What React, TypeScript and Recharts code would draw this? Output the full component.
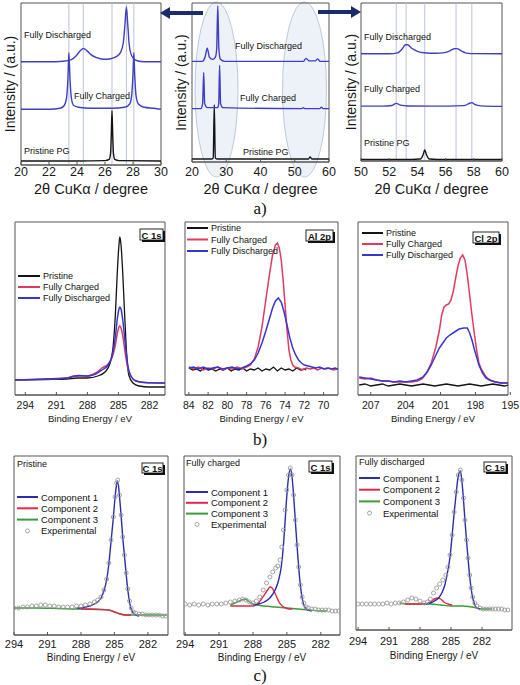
import React from 'react';
import { LineChart, Line, XAxis, YAxis, ReferenceLine, ReferenceArea, Label } from 'recharts';

type Pt = [number, number];

const FONT = '"Liberation Sans", Arial, sans-serif';
const SERIF = '"Liberation Serif", "Times New Roman", serif';

// ---------------- (a) XRD ----------------
const a1XTicks = [20, 22, 24, 26, 28, 30];
const a2XTicks = [20, 30, 40, 50, 60];
const a3XTicks = [50, 52, 54, 56, 58, 60];
const a1Guides = [23.42, 24.45, 26.5, 27.53, 28.06];
const a3Guides = [52.5, 53.2, 54.52, 56.74, 57.86];

const a1Pristine: Pt[] = [[20, 4], [24, 4], [26.0, 4.3], [26.3, 5.5], [26.4, 12], [26.45, 30], [26.5, 54], [26.55, 30], [26.6, 12], [26.7, 5.5], [27, 4.3], [30, 4]];
const a1Charged: Pt[] = [[20, 55], [22, 55], [22.8, 56], [23.1, 59], [23.25, 66], [23.35, 85], [23.42, 111], [23.5, 85], [23.6, 66], [23.75, 59], [24.1, 57], [25, 56], [26.5, 56], [27.4, 57], [27.75, 60], [27.9, 68], [28.0, 90], [28.06, 111], [28.12, 90], [28.22, 68], [28.4, 60], [28.8, 57], [29.5, 56], [30, 55]];
const a1Discharged: Pt[] = [[20, 102], [22, 102], [23, 102.5], [23.6, 104], [23.95, 108], [24.25, 113], [24.45, 115], [24.7, 113], [25.0, 109], [25.4, 106], [25.9, 104.5], [26.4, 105], [26.8, 107], [27.1, 111], [27.3, 120], [27.42, 138], [27.53, 156], [27.62, 140], [27.72, 120], [27.85, 110], [28.05, 105], [28.3, 103], [28.8, 102], [30, 102]];

const a2Pristine: Pt[] = [[20, 3], [25.8, 3], [26.2, 4], [26.5, 57], [26.8, 4], [27.5, 3], [54, 3], [54.5, 5], [55, 3], [60, 3]];
const a2Charged: Pt[] = [[20, 53], [22.6, 53], [23.1, 58], [23.42, 89], [23.7, 58], [24.5, 54], [27.5, 54], [27.8, 58], [28.06, 96], [28.35, 58], [29, 54], [52, 53], [52.5, 54], [53, 53], [57.3, 53], [57.8, 54.5], [58.3, 53], [60, 53]];
const a2Discharged: Pt[] = [[20, 100], [23, 100], [23.8, 104], [24.45, 113], [25.1, 104], [26, 102], [26.8, 104], [27.2, 112], [27.53, 155], [27.85, 112], [28.3, 102], [29.5, 100], [52.5, 100], [53.3, 103], [54.2, 100.5], [56, 100.5], [56.7, 102.5], [57.4, 100], [60, 100]];

const a3Pristine: Pt[] = [[50, 1.5], [53, 1.5], [54.2, 2], [54.4, 6], [54.52, 11], [54.65, 6], [54.85, 2], [56, 1.5], [60, 1.5]];
const a3Charged: Pt[] = [[50, 54.5], [51.5, 54.5], [52.2, 55.2], [52.5, 57.3], [52.8, 55.5], [53.3, 54.7], [55, 54.5], [57.3, 55], [57.65, 57], [57.86, 58], [58.1, 56], [58.5, 54.8], [60, 54.3]];
const a3Discharged: Pt[] = [[50, 106.5], [52, 106.5], [52.6, 107.5], [52.9, 111], [53.15, 115.5], [53.3, 115.5], [53.6, 112], [54, 109], [54.5, 107.5], [55.3, 107], [55.9, 107.7], [56.3, 109.5], [56.6, 111.5], [56.8, 111.7], [57.1, 109.5], [57.4, 107.5], [57.8, 106.7], [60, 106.5]];

// ---------------- (b) XPS ----------------
const bC1sTicks = [294, 291, 288, 285, 282];
const bAlTicks = [84, 82, 80, 78, 76, 74, 72, 70];
const bClTicks = [207, 204, 201, 198, 195];

const b1Pristine: Pt[] = [[295, 15], [292, 15.5], [290, 16], [289, 17], [288, 17], [287, 19], [286.3, 23], [285.8, 32], [285.5, 50], [285.3, 80], [285.1, 125], [284.95, 150], [284.87, 158], [284.75, 150], [284.6, 125], [284.4, 80], [284.2, 40], [284, 20], [283.6, 12], [283, 9], [282, 8], [280.5, 8]];
const b1Charged: Pt[] = [[295, 15], [292, 16], [290, 17], [289.3, 18.5], [288.8, 19], [288, 19], [287.2, 22], [286.6, 27], [286, 31], [285.6, 38], [285.3, 50], [285.1, 62], [284.95, 68], [284.87, 69], [284.75, 67], [284.55, 57], [284.35, 42], [284.1, 27], [283.8, 19], [283.3, 14], [282.5, 12.5], [280.5, 12]];
const b1Discharged: Pt[] = [[295, 15], [292, 16], [290, 17], [289.3, 19], [288.8, 19.5], [288, 19], [287.2, 21], [286.6, 25], [286, 30], [285.6, 40], [285.3, 58], [285.1, 77], [284.95, 86], [284.87, 88], [284.75, 86], [284.55, 72], [284.35, 52], [284.1, 30], [283.8, 19], [283.3, 14], [282.5, 12.5], [280.5, 12]];

const b2Pristine: Pt[] = [[84, 27], [83.6, 25], [83.2, 26], [82.8, 24], [82.4, 27], [82, 25], [81.6, 26], [81.2, 24], [80.8, 26], [80.4, 25], [80, 27], [79.6, 24], [79.2, 26], [78.8, 25], [78.4, 27], [78, 24], [77.6, 26], [77.2, 25], [76.8, 27], [76.4, 24], [76, 26], [75.6, 25], [75.2, 28], [74.8, 24], [74.4, 27], [74, 25], [73.6, 26], [73.2, 24], [72.8, 27], [72.4, 25], [72, 26], [71.8, 25]];
const b2Charged: Pt[] = [[84, 28], [83.5, 26], [83, 28], [82.5, 25], [82, 27], [81.5, 26], [81, 28], [80.5, 25], [80, 27], [79.5, 26], [79, 28], [78.5, 26], [78, 28], [77.6, 30], [77.2, 36], [76.8, 48], [76.4, 68], [76, 95], [75.6, 122], [75.3, 140], [75.0, 150], [74.8, 152], [74.6, 147], [74.4, 135], [74.2, 115], [74.0, 90], [73.8, 65], [73.6, 45], [73.4, 35], [73.2, 30], [73, 28], [72.6, 27], [72.2, 25], [71.8, 27], [71.4, 26], [71, 27], [70.6, 25], [70.2, 27], [69.8, 26], [69.4, 27], [69, 25], [68.5, 26]];
const b2Discharged: Pt[] = [[84, 27], [83.5, 28], [83, 26], [82.5, 28], [82, 26], [81.5, 27], [81, 28], [80.5, 26], [80, 27], [79.5, 28], [79, 26], [78.5, 27], [78, 29], [77.6, 31], [77.2, 35], [76.8, 42], [76.4, 52], [76, 64], [75.6, 77], [75.3, 87], [75.0, 94], [74.7, 97], [74.4, 93], [74.1, 83], [73.8, 70], [73.5, 57], [73.2, 47], [72.9, 40], [72.6, 35], [72.3, 32], [72, 30], [71.6, 29], [71.2, 28], [70.8, 27], [70.4, 28], [70, 26], [69.6, 27], [69.2, 26], [68.8, 27], [68.5, 26]];

const b3Pristine: Pt[] = [[208, 10], [207.5, 11], [207, 9], [206.5, 10], [206, 11], [205.5, 9], [205, 10], [204.5, 11], [204, 10], [203.5, 9], [203, 10], [202.5, 11], [202, 10], [201.5, 9], [201, 10], [200.5, 11], [200, 10], [199.5, 9], [199, 10], [198.5, 11], [198, 10], [197.5, 9], [197, 10], [196.5, 11], [196, 10], [195.5, 9], [195.2, 10]];
const b3Charged: Pt[] = [[208, 17], [207.5, 16], [207, 17], [206.5, 15], [206, 14], [205.5, 14], [205, 13], [204.5, 13], [204, 13], [203.5, 13], [203, 14], [202.6, 16], [202.2, 22], [201.8, 32], [201.4, 48], [201.1, 65], [200.9, 80], [200.7, 88], [200.5, 90], [200.3, 91], [200.1, 95], [199.9, 104], [199.7, 117], [199.5, 129], [199.3, 137], [199.1, 140], [198.9, 135], [198.7, 120], [198.5, 100], [198.3, 80], [198.1, 62], [197.9, 45], [197.7, 32], [197.5, 26], [197.2, 20], [197, 17], [196.6, 14], [196.2, 13], [195.8, 12], [195.2, 12]];
const b3Discharged: Pt[] = [[208, 18], [207.5, 17], [207, 16], [206.5, 15], [206, 14], [205.5, 14], [205, 13], [204.5, 14], [204, 13], [203.5, 14], [203, 15], [202.5, 18], [202.1, 24], [201.8, 30], [201.4, 40], [201.1, 47], [200.8, 52], [200.5, 57], [200.2, 60], [199.8, 63], [199.4, 66], [199.0, 67], [198.7, 67], [198.5, 62], [198.3, 55], [198.1, 46], [197.9, 38], [197.7, 30], [197.4, 22], [197.1, 17], [196.8, 15], [196.3, 13], [195.8, 12], [195.2, 12]];

// ---------------- (c) C 1s fits ----------------
const cTicks = [294, 291, 288, 285, 282];

const c1Exp: Pt[] = [[294, 27], [293.6, 27], [293.2, 28], [292.8, 28], [292.4, 29], [292, 29], [291.6, 30], [291.2, 30], [290.8, 29], [290.4, 29], [290, 28], [289.6, 28], [289.2, 28], [288.8, 28], [288.4, 29], [288, 29], [287.6, 30], [287.2, 31], [286.8, 33], [286.5, 35], [286.2, 38], [285.95, 45], [285.7, 56], [285.5, 72], [285.3, 95], [285.1, 118], [284.95, 138], [284.8, 152], [284.7, 155], [284.55, 140], [284.4, 120], [284.25, 98], [284.1, 80], [283.95, 62], [283.8, 46], [283.65, 34], [283.5, 27], [283.3, 23], [283.1, 22], [282.8, 21], [282.5, 21], [282.2, 20], [281.9, 20], [281.6, 20], [281.3, 20], [281, 20], [280.7, 19], [280.4, 19]];
const c1Comp1: Pt[] = [[288.4, 27], [288, 27], [287.6, 28], [287.2, 29], [286.8, 31], [286.5, 33], [286.2, 37], [285.95, 44], [285.7, 55], [285.5, 71], [285.3, 94], [285.1, 117], [284.95, 137], [284.8, 151], [284.7, 154], [284.55, 139], [284.4, 119], [284.25, 97], [284.1, 79], [283.95, 61], [283.8, 45], [283.65, 33], [283.5, 26], [283.3, 22], [283.1, 20], [282.8, 19]];
const c1Comp2: Pt[] = [[288, 26], [286.5, 25.5], [285.5, 25], [285, 23], [284.5, 21], [284, 20], [283.5, 20]];
const c1Comp3: Pt[] = [[294, 27], [292, 27], [290, 26.5], [288, 26], [287, 26], [286, 25.5], [285.5, 25], [285, 23], [284.5, 21], [284, 20], [283.5, 20], [282, 20], [281, 20], [280.3, 20]];

const c2Exp: Pt[] = [[294, 31], [293.6, 30], [293.2, 31], [292.8, 30], [292.4, 31], [292, 30], [291.6, 31], [291.2, 31], [290.8, 31], [290.4, 32], [290, 33], [289.6, 34], [289.2, 35], [288.9, 36], [288.6, 35], [288.3, 33], [288, 32], [287.7, 34], [287.4, 38], [287.1, 45], [286.8, 52], [286.5, 58], [286.25, 63], [286, 67], [285.8, 69], [285.6, 75], [285.45, 88], [285.3, 105], [285.15, 125], [285.0, 145], [284.85, 160], [284.7, 167], [284.55, 160], [284.4, 140], [284.25, 115], [284.1, 90], [283.95, 68], [283.8, 50], [283.65, 38], [283.5, 32], [283.3, 28], [283.1, 27], [282.8, 26], [282.5, 26], [282.2, 25], [281.9, 25], [281.6, 25], [281.3, 25], [281, 24], [280.7, 24], [280.4, 24]];
const c2Comp1: Pt[] = [[288, 30], [287.5, 31], [287, 33], [286.6, 36], [286.3, 40], [286, 46], [285.75, 54], [285.5, 68], [285.3, 90], [285.15, 115], [285.0, 140], [284.85, 158], [284.7, 166], [284.55, 159], [284.4, 139], [284.25, 114], [284.1, 89], [283.95, 67], [283.8, 49], [283.65, 37], [283.5, 30], [283.3, 26], [283.1, 25], [282.8, 24]];
const c2Comp2: Pt[] = [[290, 29], [289, 29], [288, 29], [287.6, 31], [287.3, 35], [287, 40], [286.7, 45], [286.5, 48], [286.3, 47], [286.1, 43], [285.9, 38], [285.7, 33], [285.4, 29], [285.1, 27], [284.8, 26], [284.5, 26]];
const c2Comp3: Pt[] = [[290, 30], [289.4, 33], [289, 35], [288.7, 36], [288.3, 33], [288, 31], [287, 29], [286, 28], [285, 27], [284, 26], [283, 25], [282, 24], [281.5, 24]];

const c3Exp: Pt[] = [[294, 26], [293.6, 26], [293.2, 26], [292.8, 26], [292.4, 26], [292, 26], [291.6, 26], [291.2, 27], [290.8, 26], [290.4, 27], [290, 27], [289.6, 28], [289.2, 30], [288.8, 32], [288.4, 31], [288, 29], [287.6, 27], [287.3, 28], [287, 31], [286.7, 37], [286.4, 42], [286.1, 46], [285.8, 50], [285.5, 55], [285.3, 63], [285.1, 75], [284.9, 95], [284.7, 118], [284.5, 138], [284.3, 155], [284.1, 160], [283.95, 150], [283.8, 132], [283.65, 110], [283.5, 90], [283.35, 72], [283.2, 55], [283.05, 42], [282.9, 33], [282.7, 27], [282.5, 24], [282.2, 22], [281.9, 21], [281.6, 21], [281.3, 21], [281, 21], [280.7, 21], [280.4, 21], [280.1, 21], [279.8, 20], [279.5, 20]];
const c3Comp1: Pt[] = [[287.5, 26], [287, 27], [286.6, 29], [286.2, 32], [285.9, 37], [285.6, 45], [285.3, 60], [285.1, 73], [284.9, 94], [284.7, 117], [284.5, 137], [284.3, 154], [284.1, 159], [283.95, 149], [283.8, 131], [283.65, 109], [283.5, 89], [283.35, 71], [283.2, 54], [283.05, 41], [282.9, 32], [282.7, 25], [282.5, 22], [282.2, 21]];
const c3Comp2: Pt[] = [[289.5, 26], [288.5, 26], [287.5, 26], [287, 28], [286.6, 31], [286.3, 32], [286, 31], [285.7, 28], [285.3, 26], [284.9, 25]];
const c3Comp3: Pt[] = [[290, 27], [289, 26], [288, 26], [287, 26], [286, 25], [285, 24], [284, 24], [283, 23], [282, 21], [281, 21]];

// ---------------- styles ----------------
const BLUE_A = '#3f3fc6';
const BLACK = '#141414';
const RED_B = '#e03a62';
const BLUE_B = '#3636d4';
const BLUE_C = '#2c2cb0';
const RED_C = '#e0284c';
const GREEN_C = '#3b9b3b';
const GRAY_C = '#9a9a9a';
const FRAME = '#555';

interface Series { name: string; data: Pt[]; color: string; width?: number; marker?: boolean; curve?: 'linear' | 'monotone' }
interface Box { l: number; t: number; r: number; b: number }
interface PanelProps {
  box: Box;
  xDomain: [number, number];
  reversed?: boolean;
  ticks: number[];
  yMax: number;
  series: Series[];
  guides?: number[];
  tickFont: number;
  labelTop: number;
  xTitle: string;
  titleFont: number;
  titleBaseline: number;
  yTitle?: string;
  yTitleCenter?: number;
  yTitleFont?: number;
}

function Panel(p: PanelProps) {
  const plotW = p.box.r - p.box.l;
  const plotH = p.box.b - p.box.t;
  const padT = 4, padR = 16, padB = 6;
  const yw = p.yTitle ? 2 * (p.box.l - (p.yTitleCenter ?? 0)) : 0;
  const padL = Math.max(16, yw + 2);
  const xh = p.titleBaseline - p.box.b;
  const W = padL + plotW + padR;
  const H = padT + plotH + xh + padB;
  const tickSize = -3;
  const tickMargin = p.labelTop - p.box.b - tickSize;
  return (
    <div style={{ position: 'absolute', left: p.box.l - padL, top: p.box.t - padT }}>
      <LineChart width={W} height={H} margin={{ top: padT, right: padR, bottom: padB, left: padL - yw }}>
        <XAxis
          type="number"
          dataKey="x"
          domain={p.xDomain}
          reversed={p.reversed}
          ticks={p.ticks}
          interval={0}
          allowDataOverflow
          height={xh}
          tickSize={tickSize}
          tickMargin={tickMargin}
          tick={{ fontSize: p.tickFont, fill: '#1a1a1a', fontFamily: FONT }}
          axisLine={{ stroke: FRAME }}
          tickLine={{ stroke: FRAME }}
        >
          <Label value={p.xTitle} position="insideBottom" offset={0} style={{ fontSize: p.titleFont, fill: '#1a1a1a', fontFamily: FONT }} />
        </XAxis>
        {p.yTitle ? (
          <YAxis type="number" domain={[0, p.yMax]} allowDataOverflow width={yw} tick={false} axisLine={false} tickLine={false}>
            <Label value={p.yTitle} position="center" angle={-90} style={{ fontSize: p.yTitleFont ?? 14, fill: '#1a1a1a', fontFamily: FONT }} />
          </YAxis>
        ) : (
          <YAxis type="number" domain={[0, p.yMax]} allowDataOverflow hide />
        )}
        <ReferenceArea x1={p.xDomain[0]} x2={p.xDomain[1]} y1={0} y2={p.yMax} fill="none" stroke={FRAME} strokeWidth={1} />
        {(p.guides ?? []).map((g) => (
          <ReferenceLine key={g} x={g} stroke="#b9c3da" strokeWidth={1} />
        ))}
        {p.series.map((s) => (
          <Line
            key={s.name}
            name={s.name}
            data={s.data.map(([x, y]) => ({ x, y }))}
            dataKey="y"
            type={s.curve ?? 'monotone'}
            stroke={s.marker ? 'none' : s.color}
            strokeWidth={s.width ?? 1.4}
            dot={s.marker ? { r: 2, stroke: s.color, strokeWidth: 0.9, fill: 'none' } : false}
            activeDot={false}
            isAnimationActive={false}
          />
        ))}
      </LineChart>
    </div>
  );
}

// ---------------- panel configs ----------------
const XRD_TITLE = '2\u03b8 CuK\u03b1 / degree';
const INT_TITLE = 'Intensity / (a.u.)';
const BE_TITLE = 'Binding Energy / eV';

const aSeries = (pr: Pt[], ch: Pt[], di: Pt[]): Series[] => [
  { name: 'Pristine PG', data: pr, color: BLACK, width: 1.4 },
  { name: 'Fully Charged', data: ch, color: BLUE_A, width: 1.4 },
  { name: 'Fully Discharged', data: di, color: BLUE_A, width: 1.4 },
];
const bSeries = (pr: Pt[], ch: Pt[], di: Pt[], curve: 'linear' | 'monotone'): Series[] => [
  { name: 'Pristine', data: pr, color: BLACK, width: 1.3, curve },
  { name: 'Fully Charged', data: ch, color: RED_B, width: 1.5, curve },
  { name: 'Fully Discharged', data: di, color: BLUE_B, width: 1.5, curve },
];
const cSeries = (c1: Pt[], c2: Pt[], c3: Pt[], ex: Pt[]): Series[] => [
  { name: 'Component 3', data: c3, color: GREEN_C, width: 1.4 },
  { name: 'Component 2', data: c2, color: RED_C, width: 1.4 },
  { name: 'Component 1', data: c1, color: BLUE_C, width: 1.4 },
  { name: 'Experimental', data: ex, color: GRAY_C, marker: true },
];

const bLegend = [
  { name: 'Pristine', color: BLACK },
  { name: 'Fully Charged', color: RED_B },
  { name: 'Fully Discharged', color: BLUE_B },
];
const cLegend = [
  { name: 'Component 1', color: BLUE_C },
  { name: 'Component 2', color: RED_C },
  { name: 'Component 3', color: GREEN_C },
  { name: 'Experimental', color: GRAY_C, marker: true },
];

function Overlay() {
  const T = (x: number, y: number, s: number, txt: string, opts: { anchor?: string; weight?: string; fam?: string } = {}) => (
    <text key={`${txt}-${x}-${y}`} x={x} y={y} fontSize={s} fontFamily={opts.fam ?? FONT} fontWeight={opts.weight ?? 'normal'}
      textAnchor={opts.anchor ?? 'start'} dominantBaseline="central" fill="#111">{txt}</text>
  );
  const legend = (x1: number, y0: number, dy: number, len: number, size: number, items: { name: string; color: string; marker?: boolean }[]) =>
    items.map((it, i) => {
      const y = y0 + i * dy;
      return (
        <g key={`${it.name}-${x1}`}>
          {it.marker ? (
            <circle cx={x1 + len / 2} cy={y} r={2} fill="none" stroke={it.color} strokeWidth={0.9} />
          ) : (
            <line x1={x1} x2={x1 + len} y1={y} y2={y} stroke={it.color} strokeWidth={2} />
          )}
          {T(x1 + len + 3, y, size, it.name)}
        </g>
      );
    });
  const tag = (x: number, y: number, w: number, h: number, txt: string) => (
    <g key={`tag-${x}-${y}`}>
      <rect x={x + 2} y={y + 2} width={w} height={h} fill="#111" />
      <rect x={x} y={y} width={w} height={h} fill="#fff" stroke="#111" strokeWidth={0.9} />
      {T(x + w / 2, y + h / 2 + 0.5, 9.5, txt, { anchor: 'middle', weight: 'bold' })}
    </g>
  );
  const arrow = (x0: number, tip: number, y: number) => {
    const dir = Math.sign(tip - x0);
    const base = tip - dir * 10;
    return (
      <g key={`arr-${x0}`}>
        <line x1={x0} x2={base} y1={y} y2={y} stroke="#1b2a6a" strokeWidth={4} />
        <polygon points={`${tip},${y} ${base},${y - 6} ${base},${y + 6}`} fill="#1b2a6a" />
      </g>
    );
  };
  return (
    <svg width={520} height={685} style={{ position: 'absolute', left: 0, top: 0, pointerEvents: 'none' }}>
      {arrow(203, 160, 13)}
      {arrow(318, 361, 12)}
      {T(24, 35, 9, 'Fully Discharged')}
      {T(74, 96, 9, 'Fully Charged')}
      {T(24, 151, 9, 'Pristine PG')}
      {T(235, 46, 9, 'Fully Discharged')}
      {T(240, 98, 9, 'Fully Charged')}
      {T(243, 152, 9, 'Pristine PG')}
      {T(364, 37, 9, 'Fully Discharged')}
      {T(364, 89, 9, 'Fully Charged')}
      {T(364, 143, 9, 'Pristine PG')}
      {T(260, 208, 17, 'a)', { anchor: 'middle', fam: SERIF })}
      {T(260, 439, 17, 'b)', { anchor: 'middle', fam: SERIF })}
      {T(260, 675, 17, 'c)', { anchor: 'middle', fam: SERIF })}
      {legend(18, 276, 11, 22, 9, bLegend)}
      {legend(187, 228, 11.5, 21, 9, bLegend)}
      {legend(362, 233, 11, 21, 9, bLegend)}
      {tag(140, 229, 23, 11, 'C 1s')}
      {tag(306, 230, 27, 11, 'Al 2p')}
      {tag(473, 232, 26, 11, 'Cl 2p')}
      {T(17, 464, 9, 'Pristine')}
      {T(186, 463, 9, 'Fully charged')}
      {T(359, 462, 9, 'Fully discharged')}
      {legend(17, 497, 11.3, 21, 9.5, cLegend)}
      {legend(186, 492, 10.8, 22, 9.5, cLegend)}
      {legend(359, 478, 11.7, 21, 9.5, cLegend)}
      {tag(142, 463, 21, 10, 'C 1s')}
      {tag(309, 461, 23, 11, 'C 1s')}
      {tag(484, 462, 22, 10, 'C 1s')}
    </svg>
  );
}

function Background() {
  return (
    <svg width={520} height={685} style={{ position: 'absolute', left: 0, top: 0 }}>
      <ellipse cx={216.5} cy={89.5} rx={21.5} ry={87.5} fill="#edf1f8" stroke="#bccadf" strokeWidth={1} />
      <ellipse cx={304.5} cy={89.5} rx={22} ry={87.5} fill="#edf1f8" stroke="#bccadf" strokeWidth={1} />
    </svg>
  );
}

export default function App() {
  const aCommon = { tickFont: 12.5, labelTop: 167, xTitle: XRD_TITLE, titleFont: 14.5, titleBaseline: 194, yTitle: INT_TITLE, yTitleFont: 14 };
  const bCommon = { reversed: true, tickFont: 10.5, labelTop: 402, xTitle: BE_TITLE, titleFont: 9.5, titleBaseline: 422, yMax: 173 };
  const cCommon = { reversed: true, ticks: cTicks, tickFont: 11, xTitle: BE_TITLE, titleFont: 10 };
  return (
    <div style={{ position: 'absolute', left: 0, top: 0, width: 520, height: 685, background: '#fff', overflow: 'hidden' }}>
      <Background />
      <Panel {...aCommon} box={{ l: 21, t: 3, r: 161, b: 165 }} xDomain={[20, 30]} ticks={a1XTicks} yMax={160}
        series={aSeries(a1Pristine, a1Charged, a1Discharged)} guides={a1Guides} yTitleCenter={10} />
      <Panel {...aCommon} box={{ l: 192, t: 3, r: 329, b: 162 }} xDomain={[20, 60]} ticks={a2XTicks} yMax={158}
        series={aSeries(a2Pristine, a2Charged, a2Discharged)} yTitleCenter={181} />
      <Panel {...aCommon} box={{ l: 361, t: 3, r: 502, b: 161 }} xDomain={[50, 60]} ticks={a3XTicks} yMax={157}
        series={aSeries(a3Pristine, a3Charged, a3Discharged)} guides={a3Guides} yTitleCenter={351} />

      <Panel {...bCommon} box={{ l: 15, t: 222, r: 165, b: 395 }} xDomain={[280.5, 295]} ticks={bC1sTicks}
        series={bSeries(b1Pristine, b1Charged, b1Discharged, 'monotone')} />
      <Panel {...bCommon} box={{ l: 185, t: 222, r: 338, b: 395 }} xDomain={[68.5, 84.4]} ticks={bAlTicks}
        series={bSeries(b2Pristine, b2Charged, b2Discharged, 'linear')} />
      <Panel {...bCommon} box={{ l: 358, t: 222, r: 508, b: 395 }} xDomain={[195.2, 208.1]} ticks={bClTicks}
        series={bSeries(b3Pristine, b3Charged, b3Discharged, 'linear')} />

      <Panel {...cCommon} box={{ l: 14, t: 456, r: 168, b: 635 }} xDomain={[280.2, 294]} yMax={179} labelTop={640} titleBaseline={661}
        series={cSeries(c1Comp1, c1Comp2, c1Comp3, c1Exp)} />
      <Panel {...cCommon} box={{ l: 184, t: 456, r: 340, b: 635 }} xDomain={[280.3, 294.1]} yMax={179} labelTop={640} titleBaseline={661}
        series={cSeries(c2Comp1, c2Comp2, c2Comp3, c2Exp)} />
      <Panel {...cCommon} box={{ l: 356, t: 456, r: 512, b: 630 }} xDomain={[279.1, 294.2]} yMax={174} labelTop={637} titleBaseline={659}
        series={cSeries(c3Comp1, c3Comp2, c3Comp3, c3Exp)} />

      <Overlay />
    </div>
  );
}
